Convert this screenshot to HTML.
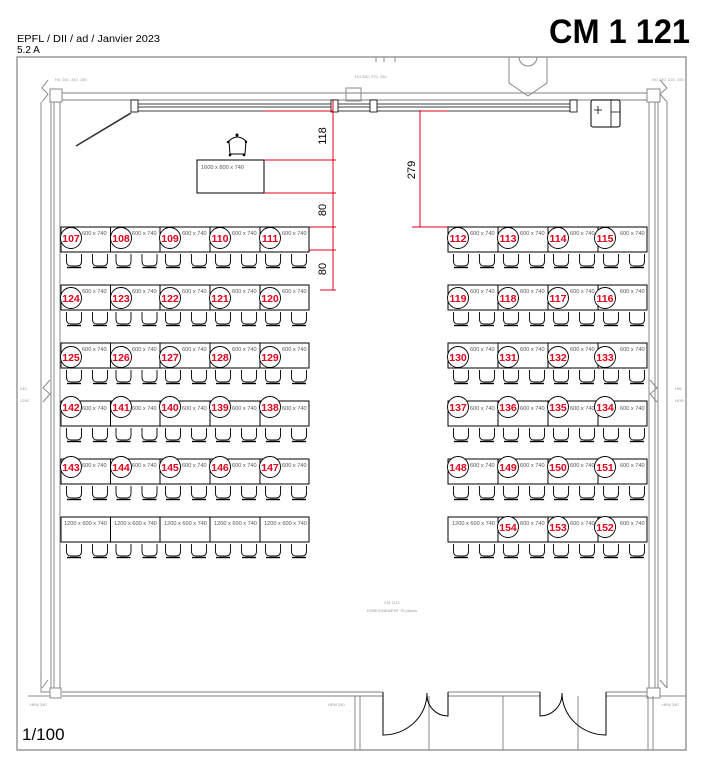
<!DOCTYPE html>
<html><head><meta charset="utf-8"><style>
html,body{margin:0;padding:0;background:#fff}
svg{display:block}
.sz{font-family:"Liberation Sans",sans-serif;font-size:5.6px;fill:#555}
.n{font-family:"Liberation Sans",sans-serif;font-size:10.5px;font-weight:bold;fill:#e3001b;text-anchor:middle}
.t{fill:#fff;stroke:#000;stroke-width:1}
.c{fill:#fff;stroke:#000;stroke-width:0.9}
.g{fill:none;stroke:#888;stroke-width:1}
.r{stroke:#e3001b;stroke-width:1;fill:none}
.sm{font-family:"Liberation Sans",sans-serif;font-size:4px;fill:#999}
</style></head><body>
<svg width="708" height="770" viewBox="0 0 708 770" xmlns="http://www.w3.org/2000/svg">
<defs>
<g id="ch"><path d="M1.5,1 V8 Q1.5,13 6,13 H12 Q16.5,13 16.5,8 V1" fill="none" stroke="#000" stroke-width="0.9"/><path d="M2,14.5 H16" stroke="#000" stroke-width="1.4"/></g>
<g id="cp"><use href="#ch" x="4"/><use href="#ch" x="30"/></g>
</defs>
<!-- header -->
<text x="17" y="42" font-family="Liberation Sans,sans-serif" font-size="10" textLength="143" lengthAdjust="spacingAndGlyphs">EPFL / DII / ad / Janvier 2023</text>
<text x="17" y="53" font-family="Liberation Sans,sans-serif" font-size="10">5.2 A</text>
<text x="549" y="43" font-family="Liberation Sans,sans-serif" font-size="34" font-weight="bold" textLength="141" lengthAdjust="spacingAndGlyphs">CM 1 121</text>
<!-- frame -->
<rect x="17" y="57" width="669" height="693" fill="none" stroke="#999" stroke-width="1.5"/>
<path d="M376,57 V62 M384,57 V62 M395,57 V62" class="g"/>
<path d="M509,57 V83 L528,96 L547,83 V57" class="g"/>
<path d="M519,57 A9,9 0 0 0 537,57" class="g"/>
<!-- walls -->
<path d="M62,93 H647 M62,100 H647" stroke="#999" stroke-width="1.2" fill="none"/>
<path d="M41,102 V688 M51,102 V688 M54,102 V688 M60,102 V688" class="g"/>
<path d="M649,102 V688 M655,102 V688 M658,102 V688 M667,102 V688" class="g"/>
<path d="M62,692 H383 M62,696 H383 M448,692 H540 M448,696 H540 M606,692 H647 M606,696 H647" stroke="#999" stroke-width="1.2" fill="none"/>
<path d="M41,688 V692 H50 M28,696 H50 M660,696 H686" class="g"/>
<rect x="50" y="89" width="12" height="13" class="g" fill="#fff"/>
<rect x="647" y="89" width="13" height="13" class="g" fill="#fff"/>
<rect x="50" y="688" width="11" height="10" class="g" fill="#fff"/>
<rect x="647" y="688" width="13" height="10" class="g" fill="#fff"/>
<rect x="346" y="88" width="15" height="13" class="g" fill="#fff"/>
<path d="M48,80 L42,88 L48,94 L42,102 M660,80 L667,88 L660,94 L667,102 M48,680 L42,688 M660,680 L667,688 M50,380 L43,388 L50,394 L43,402 M650,380 L657,388 L650,394 L657,402" class="g"/>
<path d="M355,696 V750 M360,696 V750 M429,696 V750 M503,696 V750 M578,696 V750 M648,696 V750 M653,696 V750" class="g"/>
<text x="55" y="81" class="sm">HO 240, 310, 155</text>
<text x="355" y="78" class="sm">HO 260, 270, 190</text>
<text x="652" y="81" class="sm">HO 240, 310, 155</text>
<text x="30" y="706" class="sm">HEM 240</text>
<text x="328" y="706" class="sm">HEM 240</text>
<text x="662" y="706" class="sm">HEM 240</text>
<text x="20" y="390" class="sm">240</text><text x="20" y="402" class="sm">1240</text>
<text x="675" y="390" class="sm">HW</text><text x="675" y="402" class="sm">HOR</text>
<!-- windows top -->
<path d="M135,104 H573 M135,107 H573 M135,111 H573" stroke="#000" stroke-width="0.8" fill="none"/>
<rect x="131" y="100" width="7" height="12" fill="#fff" stroke="#000" stroke-width="0.8"/>
<rect x="331" y="100" width="7" height="12" fill="#fff" stroke="#000" stroke-width="0.8"/>
<rect x="370" y="100" width="7" height="12" fill="#fff" stroke="#000" stroke-width="0.8"/>
<rect x="570" y="100" width="7" height="12" fill="#fff" stroke="#000" stroke-width="0.8"/>
<path d="M76,146 L131,113" stroke="#333" stroke-width="1.6"/>
<rect x="591" y="100" width="29" height="27" rx="2" fill="#fff" stroke="#000"/>
<path d="M611,100 V127 M611,112 H620 M598,106 V114 M594,110 H602" stroke="#000" stroke-width="0.8" fill="none"/>
<!-- doors -->
<path d="M383,692 V735 A44,42 0 0 0 427,693 M448,692 V716 A21,21 0 0 1 427,695 M540,692 V716 A22,22 0 0 0 562,695 M606,692 V735 A44,42 0 0 1 562,693" stroke="#000" stroke-width="1" fill="none"/>
<!-- teacher -->
<rect x="197" y="160" width="67" height="33" class="t"/>
<text x="201" y="169" class="sz">1600 x 800 x 740</text>
<path d="M229,141 Q237,133 246,141 L245,154 H230 Z" fill="#fff" stroke="#000"/>
<circle cx="237" cy="135" r="1.5" fill="#000"/><circle cx="230" cy="155" r="1.3" fill="#000"/><circle cx="244" cy="155" r="1.3" fill="#000"/><circle cx="228" cy="142" r="1.2" fill="#000"/><circle cx="246" cy="142" r="1.2" fill="#000"/>
<!-- dimensions -->
<path d="M333,100 V290 M264,111 H333 M264,160 H336 M264,193 H336 M309,227 H336 M309,250 H336 M320,290 H336" class="r"/>
<path d="M420,110 V227 M420,111 H448 M412,227 H448" class="r"/>
<text transform="translate(326,136) rotate(-90)" font-family="Liberation Sans,sans-serif" font-size="11" text-anchor="middle">118</text>
<text transform="translate(326,210) rotate(-90)" font-family="Liberation Sans,sans-serif" font-size="11" text-anchor="middle">80</text>
<text transform="translate(326,269) rotate(-90)" font-family="Liberation Sans,sans-serif" font-size="11" text-anchor="middle">80</text>
<text transform="translate(415,170) rotate(-90)" font-family="Liberation Sans,sans-serif" font-size="11" text-anchor="middle">279</text>
<text x="392" y="604" class="sm" text-anchor="middle" font-size="5">CM 1121</text>
<text x="392" y="612" class="sm" text-anchor="middle" font-size="5">ENSEIGNEMENT 78 places</text>
<text x="22" y="740" font-family="Liberation Sans,sans-serif" font-size="17">1/100</text>

<!-- ROW 1 y=227 -->
<g transform="translate(0,227)">
<rect x="61" y="0" width="49.5" height="25" class="t"/><rect x="110.5" y="0" width="49.5" height="25" class="t"/><rect x="160" y="0" width="50" height="25" class="t"/><rect x="210" y="0" width="50" height="25" class="t"/><rect x="260" y="0" width="49" height="25" class="t"/>
<rect x="448" y="0" width="50" height="25" class="t"/><rect x="498" y="0" width="50" height="25" class="t"/><rect x="548" y="0" width="50" height="25" class="t"/><rect x="598" y="0" width="49" height="25" class="t"/>
<use href="#cp" x="61" y="26"/><use href="#cp" x="110.5" y="26"/><use href="#cp" x="160" y="26"/><use href="#cp" x="210" y="26"/><use href="#cp" x="260" y="26"/>
<use href="#cp" x="448" y="26"/><use href="#cp" x="498" y="26"/><use href="#cp" x="548" y="26"/><use href="#cp" x="598" y="26"/>
<text x="82" y="8" class="sz">600 x 740</text><text x="132" y="8" class="sz">600 x 740</text><text x="182" y="8" class="sz">600 x 740</text><text x="232" y="8" class="sz">600 x 740</text><text x="282" y="8" class="sz">600 x 740</text>
<text x="470" y="8" class="sz">600 x 740</text><text x="520" y="8" class="sz">600 x 740</text><text x="570" y="8" class="sz">600 x 740</text><text x="620" y="8" class="sz">600 x 740</text>
<circle cx="71" cy="11" r="10.5" class="c"/><circle cx="121" cy="11" r="10.5" class="c"/><circle cx="170" cy="11" r="10.5" class="c"/><circle cx="220" cy="11" r="10.5" class="c"/><circle cx="270" cy="11" r="10.5" class="c"/>
<circle cx="458" cy="11" r="10.5" class="c"/><circle cx="508" cy="11" r="10.5" class="c"/><circle cx="558" cy="11" r="10.5" class="c"/><circle cx="605" cy="11" r="10.5" class="c"/>
<text x="71" y="15" class="n">107</text><text x="121" y="15" class="n">108</text><text x="170" y="15" class="n">109</text><text x="220" y="15" class="n">110</text><text x="270" y="15" class="n">111</text>
<text x="458" y="15" class="n">112</text><text x="508" y="15" class="n">113</text><text x="558" y="15" class="n">114</text><text x="605" y="15" class="n">115</text>
</g>

<!-- ROW 2 y=285 -->
<g transform="translate(0,285)">
<rect x="61" y="0" width="49.5" height="25" class="t"/><rect x="110.5" y="0" width="49.5" height="25" class="t"/><rect x="160" y="0" width="50" height="25" class="t"/><rect x="210" y="0" width="50" height="25" class="t"/><rect x="260" y="0" width="49" height="25" class="t"/>
<rect x="448" y="0" width="50" height="25" class="t"/><rect x="498" y="0" width="50" height="25" class="t"/><rect x="548" y="0" width="50" height="25" class="t"/><rect x="598" y="0" width="49" height="25" class="t"/>
<use href="#cp" x="61" y="26"/><use href="#cp" x="110.5" y="26"/><use href="#cp" x="160" y="26"/><use href="#cp" x="210" y="26"/><use href="#cp" x="260" y="26"/>
<use href="#cp" x="448" y="26"/><use href="#cp" x="498" y="26"/><use href="#cp" x="548" y="26"/><use href="#cp" x="598" y="26"/>
<text x="82" y="8" class="sz">600 x 740</text><text x="132" y="8" class="sz">600 x 740</text><text x="182" y="8" class="sz">600 x 740</text><text x="232" y="8" class="sz">600 x 740</text><text x="282" y="8" class="sz">600 x 740</text>
<text x="470" y="8" class="sz">600 x 740</text><text x="520" y="8" class="sz">600 x 740</text><text x="570" y="8" class="sz">600 x 740</text><text x="620" y="8" class="sz">600 x 740</text>
<circle cx="71" cy="13" r="10.5" class="c"/><circle cx="121" cy="13" r="10.5" class="c"/><circle cx="170" cy="13" r="10.5" class="c"/><circle cx="220" cy="13" r="10.5" class="c"/><circle cx="270" cy="13" r="10.5" class="c"/>
<circle cx="458" cy="13" r="10.5" class="c"/><circle cx="508" cy="13" r="10.5" class="c"/><circle cx="558" cy="13" r="10.5" class="c"/><circle cx="605" cy="13" r="10.5" class="c"/>
<text x="71" y="17" class="n">124</text><text x="121" y="17" class="n">123</text><text x="170" y="17" class="n">122</text><text x="220" y="17" class="n">121</text><text x="270" y="17" class="n">120</text>
<text x="458" y="17" class="n">119</text><text x="508" y="17" class="n">118</text><text x="558" y="17" class="n">117</text><text x="605" y="17" class="n">116</text>
</g>

<!-- ROW 3 y=343 -->
<g transform="translate(0,343)">
<rect x="61" y="0" width="49.5" height="25" class="t"/><rect x="110.5" y="0" width="49.5" height="25" class="t"/><rect x="160" y="0" width="50" height="25" class="t"/><rect x="210" y="0" width="50" height="25" class="t"/><rect x="260" y="0" width="49" height="25" class="t"/>
<rect x="448" y="0" width="50" height="25" class="t"/><rect x="498" y="0" width="50" height="25" class="t"/><rect x="548" y="0" width="50" height="25" class="t"/><rect x="598" y="0" width="49" height="25" class="t"/>
<use href="#cp" x="61" y="26"/><use href="#cp" x="110.5" y="26"/><use href="#cp" x="160" y="26"/><use href="#cp" x="210" y="26"/><use href="#cp" x="260" y="26"/>
<use href="#cp" x="448" y="26"/><use href="#cp" x="498" y="26"/><use href="#cp" x="548" y="26"/><use href="#cp" x="598" y="26"/>
<text x="82" y="8" class="sz">600 x 740</text><text x="132" y="8" class="sz">600 x 740</text><text x="182" y="8" class="sz">600 x 740</text><text x="232" y="8" class="sz">600 x 740</text><text x="282" y="8" class="sz">600 x 740</text>
<text x="470" y="8" class="sz">600 x 740</text><text x="520" y="8" class="sz">600 x 740</text><text x="570" y="8" class="sz">600 x 740</text><text x="620" y="8" class="sz">600 x 740</text>
<circle cx="71" cy="14" r="10.5" class="c"/><circle cx="121" cy="14" r="10.5" class="c"/><circle cx="170" cy="14" r="10.5" class="c"/><circle cx="220" cy="14" r="10.5" class="c"/><circle cx="270" cy="14" r="10.5" class="c"/>
<circle cx="458" cy="14" r="10.5" class="c"/><circle cx="508" cy="14" r="10.5" class="c"/><circle cx="558" cy="14" r="10.5" class="c"/><circle cx="605" cy="14" r="10.5" class="c"/>
<text x="71" y="18" class="n">125</text><text x="121" y="18" class="n">126</text><text x="170" y="18" class="n">127</text><text x="220" y="18" class="n">128</text><text x="270" y="18" class="n">129</text>
<text x="458" y="18" class="n">130</text><text x="508" y="18" class="n">131</text><text x="558" y="18" class="n">132</text><text x="605" y="18" class="n">133</text>
</g>

<!-- ROW 4 y=401 -->
<g transform="translate(0,401)">
<rect x="61" y="0" width="49.5" height="25" class="t"/><rect x="110.5" y="0" width="49.5" height="25" class="t"/><rect x="160" y="0" width="50" height="25" class="t"/><rect x="210" y="0" width="50" height="25" class="t"/><rect x="260" y="0" width="49" height="25" class="t"/>
<rect x="448" y="0" width="50" height="25" class="t"/><rect x="498" y="0" width="50" height="25" class="t"/><rect x="548" y="0" width="50" height="25" class="t"/><rect x="598" y="0" width="49" height="25" class="t"/>
<use href="#cp" x="61" y="26"/><use href="#cp" x="110.5" y="26"/><use href="#cp" x="160" y="26"/><use href="#cp" x="210" y="26"/><use href="#cp" x="260" y="26"/>
<use href="#cp" x="448" y="26"/><use href="#cp" x="498" y="26"/><use href="#cp" x="548" y="26"/><use href="#cp" x="598" y="26"/>
<text x="82" y="9" class="sz">600 x 740</text><text x="132" y="9" class="sz">600 x 740</text><text x="182" y="9" class="sz">600 x 740</text><text x="232" y="9" class="sz">600 x 740</text><text x="282" y="9" class="sz">600 x 740</text>
<text x="470" y="9" class="sz">600 x 740</text><text x="520" y="9" class="sz">600 x 740</text><text x="570" y="9" class="sz">600 x 740</text><text x="620" y="9" class="sz">600 x 740</text>
<circle cx="71" cy="6" r="10.5" class="c"/><circle cx="121" cy="6" r="10.5" class="c"/><circle cx="170" cy="6" r="10.5" class="c"/><circle cx="220" cy="6" r="10.5" class="c"/><circle cx="270" cy="6" r="10.5" class="c"/>
<circle cx="458" cy="6" r="10.5" class="c"/><circle cx="508" cy="6" r="10.5" class="c"/><circle cx="558" cy="6" r="10.5" class="c"/><circle cx="605" cy="6" r="10.5" class="c"/>
<text x="71" y="10" class="n">142</text><text x="121" y="10" class="n">141</text><text x="170" y="10" class="n">140</text><text x="220" y="10" class="n">139</text><text x="270" y="10" class="n">138</text>
<text x="458" y="10" class="n">137</text><text x="508" y="10" class="n">136</text><text x="558" y="10" class="n">135</text><text x="605" y="10" class="n">134</text>
</g>

<!-- ROW 5 y=459 -->
<g transform="translate(0,459)">
<rect x="61" y="0" width="49.5" height="25" class="t"/><rect x="110.5" y="0" width="49.5" height="25" class="t"/><rect x="160" y="0" width="50" height="25" class="t"/><rect x="210" y="0" width="50" height="25" class="t"/><rect x="260" y="0" width="49" height="25" class="t"/>
<rect x="448" y="0" width="50" height="25" class="t"/><rect x="498" y="0" width="50" height="25" class="t"/><rect x="548" y="0" width="50" height="25" class="t"/><rect x="598" y="0" width="49" height="25" class="t"/>
<use href="#cp" x="61" y="26"/><use href="#cp" x="110.5" y="26"/><use href="#cp" x="160" y="26"/><use href="#cp" x="210" y="26"/><use href="#cp" x="260" y="26"/>
<use href="#cp" x="448" y="26"/><use href="#cp" x="498" y="26"/><use href="#cp" x="548" y="26"/><use href="#cp" x="598" y="26"/>
<text x="82" y="8" class="sz">600 x 740</text><text x="132" y="8" class="sz">600 x 740</text><text x="182" y="8" class="sz">600 x 740</text><text x="232" y="8" class="sz">600 x 740</text><text x="282" y="8" class="sz">600 x 740</text>
<text x="470" y="8" class="sz">600 x 740</text><text x="520" y="8" class="sz">600 x 740</text><text x="570" y="8" class="sz">600 x 740</text><text x="620" y="8" class="sz">600 x 740</text>
<circle cx="71" cy="8" r="10.5" class="c"/><circle cx="121" cy="8" r="10.5" class="c"/><circle cx="170" cy="8" r="10.5" class="c"/><circle cx="220" cy="8" r="10.5" class="c"/><circle cx="270" cy="8" r="10.5" class="c"/>
<circle cx="458" cy="8" r="10.5" class="c"/><circle cx="508" cy="8" r="10.5" class="c"/><circle cx="558" cy="8" r="10.5" class="c"/><circle cx="605" cy="8" r="10.5" class="c"/>
<text x="71" y="12" class="n">143</text><text x="121" y="12" class="n">144</text><text x="170" y="12" class="n">145</text><text x="220" y="12" class="n">146</text><text x="270" y="12" class="n">147</text>
<text x="458" y="12" class="n">148</text><text x="508" y="12" class="n">149</text><text x="558" y="12" class="n">150</text><text x="605" y="12" class="n">151</text>
</g>

<!-- ROW 6 y=517 -->
<g transform="translate(0,517)">
<rect x="61" y="0" width="49.5" height="25" class="t"/><rect x="110.5" y="0" width="49.5" height="25" class="t"/><rect x="160" y="0" width="50" height="25" class="t"/><rect x="210" y="0" width="50" height="25" class="t"/><rect x="260" y="0" width="49" height="25" class="t"/>
<rect x="448" y="0" width="50" height="25" class="t"/><rect x="498" y="0" width="50" height="25" class="t"/><rect x="548" y="0" width="50" height="25" class="t"/><rect x="598" y="0" width="49" height="25" class="t"/>
<use href="#cp" x="61" y="26"/><use href="#cp" x="110.5" y="26"/><use href="#cp" x="160" y="26"/><use href="#cp" x="210" y="26"/><use href="#cp" x="260" y="26"/>
<use href="#cp" x="448" y="26"/><use href="#cp" x="498" y="26"/><use href="#cp" x="548" y="26"/><use href="#cp" x="598" y="26"/>
<text x="64" y="8" class="sz">1200 x 600 x 740</text><text x="114" y="8" class="sz">1200 x 600 x 740</text><text x="164" y="8" class="sz">1200 x 600 x 740</text><text x="214" y="8" class="sz">1200 x 600 x 740</text><text x="264" y="8" class="sz">1200 x 600 x 740</text>
<text x="452" y="8" class="sz">1200 x 600 x 740</text><text x="520" y="8" class="sz">600 x 740</text><text x="570" y="8" class="sz">600 x 740</text><text x="620" y="8" class="sz">600 x 740</text>
<circle cx="508" cy="10" r="10.5" class="c"/><circle cx="558" cy="10" r="10.5" class="c"/><circle cx="605" cy="10" r="10.5" class="c"/>
<text x="508" y="14" class="n">154</text><text x="558" y="14" class="n">153</text><text x="605" y="14" class="n">152</text>
</g>
</svg>
</body></html>
